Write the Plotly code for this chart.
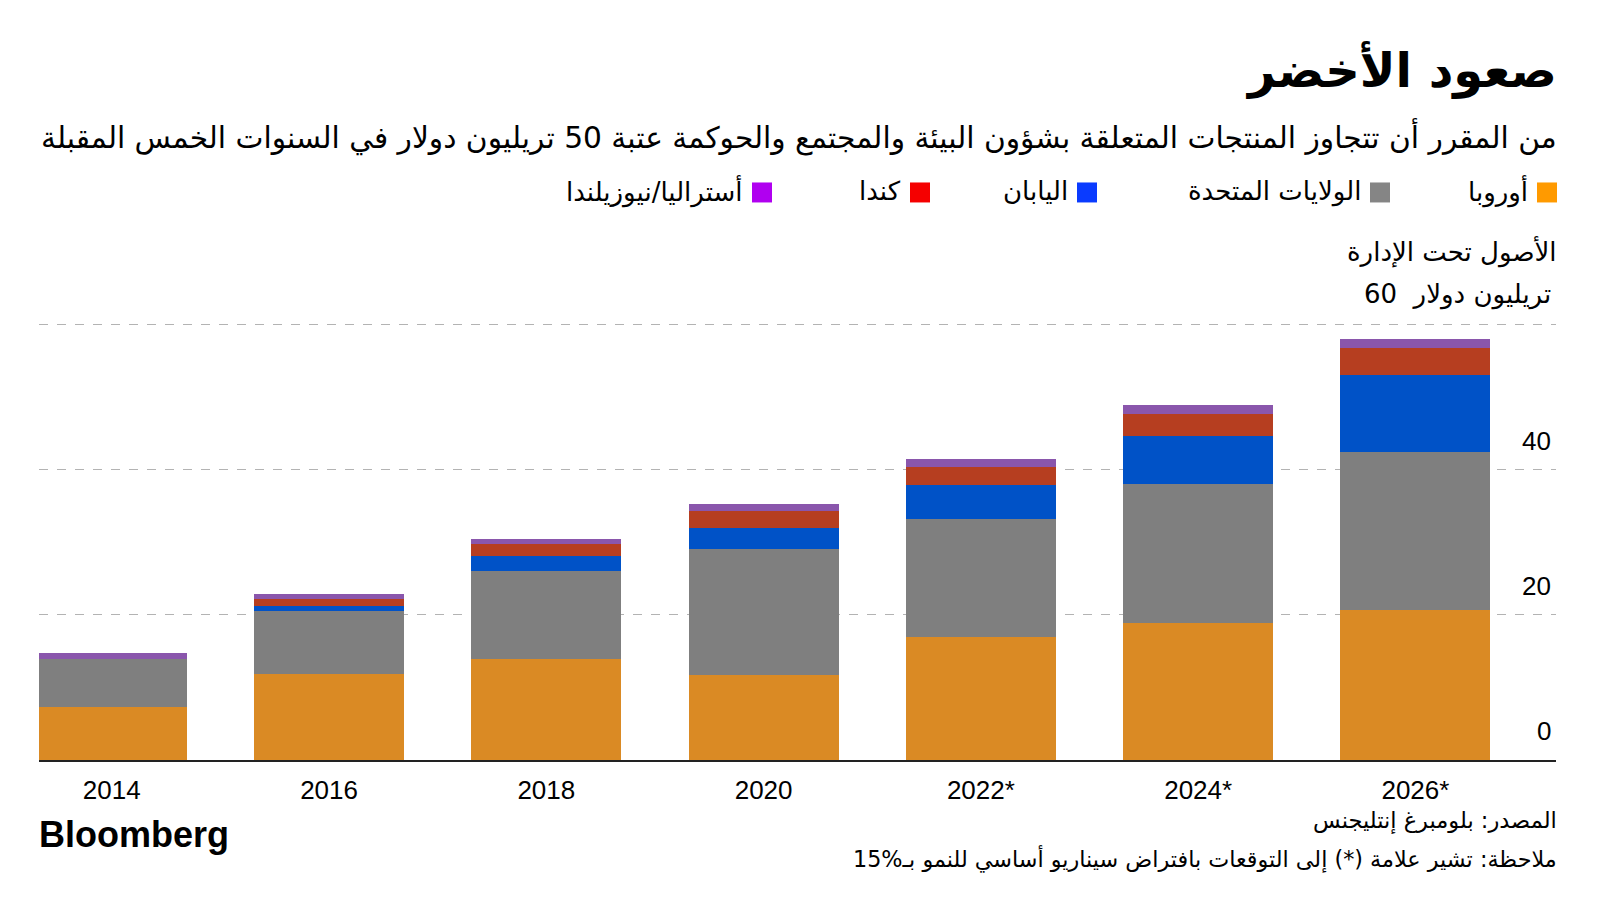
import plotly.graph_objects as go

years = ["2014", "2016", "2018", "2020", "2022*", "2024*", "2026*"]
europe = [7.3, 11.9, 13.9, 11.7, 17.0, 18.9, 20.6]
us = [6.6, 8.6, 12.2, 17.3, 16.2, 19.1, 21.8]
japan = [0.0, 0.7, 2.0, 2.9, 4.7, 6.6, 10.6]
canada = [0.0, 1.0, 1.6, 2.4, 2.4, 3.1, 3.8]
ausnz = [0.8, 0.6, 0.8, 1.0, 1.2, 1.2, 1.2]

series_names = ["أوروبا", "الولايات المتحدة", "اليابان", "كندا", "أستراليا/نيوزيلندا"]
series_values = [europe, us, japan, canada, ausnz]
bar_colors = ["#DA8A24", "#7F7F7F", "#0052C7", "#B63E20", "#8A56AC"]
legend_colors = ["#FF9A00", "#858585", "#0A3BFF", "#F50000", "#B000F0"]

y_ticks = [0, 20, 40, 60]

title = "صعود الأخضر"
subtitle = "من المقرر أن تتجاوز المنتجات المتعلقة بشؤون البيئة والمجتمع والحوكمة عتبة 50 تريليون دولار في السنوات الخمس المقبلة"
y_title = "الأصول تحت الإدارة"
y_unit = "تريليون دولار"
source = "المصدر: بلومبرغ إنتليجنس"
note = "ملاحظة: تشير علامة (*) إلى التوقعات بافتراض سيناريو أساسي للنمو بـ\u202a15%\u202c"

RLE, PDF = "\u202b", "\u202c"
AR_FONT = "DejaVu Sans"
LAT_FONT = "Liberation Sans"

OFF = 8  # page body margin
W, H = 1600 - 2 * OFF, 900 - 2 * OFF
# plot area in page pixels
PX0, PX1, PY60, PY_BOT = 39 - OFF, 1556 - OFF, 324 - OFF, 760 - OFF
UNIT = (PY_BOT - PY60) / 60.0
Y_TOP_VAL = 60.6
PY_TOP = PY_BOT - Y_TOP_VAL * UNIT


def px(x):
    return (x - OFF - PX0) / (PX1 - PX0)


def py(y):
    return (PY_BOT - (y - OFF)) / (PY_BOT - PY_TOP)


fig = go.Figure()
for name, vals, col in zip(series_names, series_values, bar_colors):
    fig.add_trace(go.Bar(x=years, y=vals, name=name, marker=dict(color=col, line=dict(width=0)),
                         width=0.69, showlegend=False))

annotations = []
shapes = []


def add_text(text, x, y, size, anchor="right", family=AR_FONT, color="#000000", weight="normal", rtl=True):
    t = RLE + text + PDF if rtl else text
    annotations.append(dict(text=t, x=px(x), y=py(y), xref="paper", yref="paper",
                            xanchor=anchor, yanchor="middle", showarrow=False,
                            font=dict(size=size, family=family, color=color, weight=weight)))


RX = 1559
add_text(title, RX, 69, 48, weight="bold")
add_text(subtitle, RX, 136, 29.7)
add_text(y_title, RX, 251, 26)

# legend (manual, right-to-left)
legend_sw_right = [1557, 1390, 1097, 930, 772]
for name, col, xr in zip(series_names, legend_colors, legend_sw_right):
    shapes.append(dict(type="rect", xref="paper", yref="paper", x0=px(xr - 20), x1=px(xr),
                       y0=py(202), y1=py(182), fillcolor=col, line=dict(width=0)))
    add_text(name, xr - 27, 191, 26)

# y tick labels
for v in y_ticks:
    if v == 60:
        add_text(y_unit + "  " + str(v), 1553, 294, 26, rtl=False)
    else:
        annotations.append(dict(text=str(v), x=px(1553), y=v, xref="paper", yref="y",
                                xanchor="right", yanchor="middle", yshift=29, showarrow=False,
                                font=dict(size=26, family=LAT_FONT, color="#000000")))

add_text(source, RX, 821, 22.5)
add_text(note, RX, 859, 22.3)
add_text("Bloomberg", 37, 835, 36, anchor="left", family=LAT_FONT, weight="bold", rtl=False)

fig.update_layout(
    width=W, height=H,
    barmode="stack",
    paper_bgcolor="white", plot_bgcolor="white",
    margin=dict(l=PX0, r=W - PX1, t=PY_TOP, b=H - PY_BOT, pad=0, autoexpand=False),
    annotations=annotations,
    shapes=shapes,
    showlegend=False,
    xaxis=dict(type="category", range=[-0.335, 6.647], showline=True, linecolor="#222222",
               linewidth=1.5, ticks="", ticklabelstandoff=6, automargin=False,
               tickfont=dict(size=26, family=LAT_FONT, color="#000000"), showgrid=False),
    yaxis=dict(range=[0, Y_TOP_VAL], tickvals=y_ticks, showticklabels=False, showgrid=True,
               gridcolor="#b3b3b3", griddash="dash", gridwidth=1, zeroline=False, showline=False,
               automargin=False),
)

fig.write_html("out.html")
